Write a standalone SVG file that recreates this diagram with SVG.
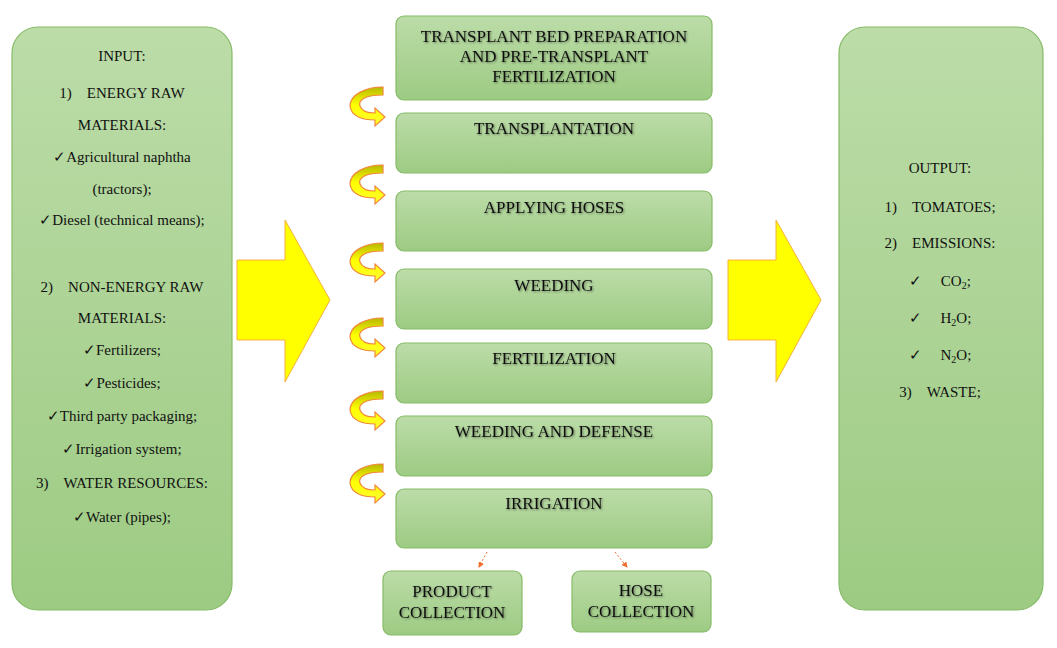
<svg xmlns="http://www.w3.org/2000/svg" width="1057" height="648" viewBox="0 0 1057 648" font-family="'Liberation Serif', 'DejaVu Serif', serif">
<defs>
<linearGradient id="g" x1="0" y1="0" x2="0" y2="1"><stop offset="0" stop-color="#bcdca8"/><stop offset="1" stop-color="#9dcb83"/></linearGradient>
<linearGradient id="y" x1="0" y1="0" x2="0" y2="1"><stop offset="0" stop-color="#b7b800"/><stop offset="0.45" stop-color="#ffff00"/><stop offset="1" stop-color="#ffff30"/></linearGradient>
<filter id="sh" x="-5%" y="-20%" width="110%" height="140%"><feDropShadow dx="1" dy="1" stdDeviation="0.8" flood-color="#000" flood-opacity="0.45"/></filter>
<marker id="ah" markerWidth="6" markerHeight="6" refX="5" refY="3" orient="auto"><path d="M0,0L6,3L0,6Z" fill="#f07030"/></marker>
<path id="cur" d="M33,0 L33,8 C15,8 8,13 10,19 C12,25 20,26 25,26 L25,21 L35,30 L25,39 L25,33 C12,33 1,29 0,19 C0,8 15,0 33,0 Z"/>
</defs>
<style>
.box{fill:url(#g);stroke:#86bb68;stroke-width:1.2}
text{fill:#111;text-anchor:middle}
.c{font-size:17px;filter:url(#sh)}
.s{font-size:15px}
.cv{fill:url(#y);stroke:#f0883a;stroke-width:1.2}
.big{fill:#ffff00;stroke:#f4b040;stroke-width:1}
</style>
<rect width="1057" height="648" fill="#fff"/>
<g id="input">
<rect class="box" x="12" y="27" width="220" height="583" rx="26"/>
<text class="s" x="122" y="61">INPUT:</text>
<text class="s" x="122" y="98">1)&#160;&#160;&#160;&#160;ENERGY RAW</text>
<text class="s" x="122" y="130">MATERIALS:</text>
<text class="s" x="122" y="162">✓Agricultural naphtha</text>
<text class="s" x="122" y="194">(tractors);</text>
<text class="s" x="122" y="225">✓Diesel (technical means);</text>
<text class="s" x="122" y="292">2)&#160;&#160;&#160;&#160;NON-ENERGY RAW</text>
<text class="s" x="122" y="323">MATERIALS:</text>
<text class="s" x="122" y="355">✓Fertilizers;</text>
<text class="s" x="122" y="388">✓Pesticides;</text>
<text class="s" x="122" y="421">✓Third party packaging;</text>
<text class="s" x="122" y="454">✓Irrigation system;</text>
<text class="s" x="122" y="488">3)&#160;&#160;&#160;&#160;WATER RESOURCES:</text>
<text class="s" x="122" y="522">✓Water (pipes);</text>
</g>
<g id="output">
<rect class="box" x="839" y="27" width="204" height="583" rx="26"/>
<text class="s" x="940" y="173">OUTPUT:</text>
<text class="s" x="940" y="212">1)&#160;&#160;&#160;&#160;TOMATOES;</text>
<text class="s" x="940" y="248">2)&#160;&#160;&#160;&#160;EMISSIONS:</text>
<text class="s" x="940" y="286">✓&#160;&#160;&#160;&#160;&#160;CO<tspan font-size="10" dy="3">2</tspan><tspan dy="-3">;</tspan></text>
<text class="s" x="940" y="323">✓&#160;&#160;&#160;&#160;&#160;H<tspan font-size="10" dy="3">2</tspan><tspan dy="-3">O;</tspan></text>
<text class="s" x="940" y="360">✓&#160;&#160;&#160;&#160;&#160;N<tspan font-size="10" dy="3">2</tspan><tspan dy="-3">O;</tspan></text>
<text class="s" x="940" y="397">3)&#160;&#160;&#160;&#160;WASTE;</text>
</g>
<g id="bigarrows">
<path class="big" d="M237,260 L285,260 L285,220 L330,300 L285,382 L285,340 L237,340 Z"/>
<path class="big" d="M728,260 L776,260 L776,220 L821,300 L776,382 L776,340 L728,340 Z"/>
</g>
<g id="n1"><rect class="box" x="396" y="16" width="316" height="84" rx="8"/>
<text class="c" x="554" y="42">TRANSPLANT BED PREPARATION</text><text class="c" x="554" y="62">AND PRE-TRANSPLANT</text><text class="c" x="554" y="82">FERTILIZATION</text></g>
<g id="n2"><rect class="box" x="396" y="113" width="316" height="60" rx="8"/><text class="c" x="554" y="134">TRANSPLANTATION</text></g>
<g id="n3"><rect class="box" x="396" y="191" width="316" height="60" rx="8"/><text class="c" x="554" y="213">APPLYING HOSES</text></g>
<g id="n4"><rect class="box" x="396" y="269" width="316" height="60" rx="8"/><text class="c" x="554" y="291">WEEDING</text></g>
<g id="n5"><rect class="box" x="396" y="343" width="316" height="60" rx="8"/><text class="c" x="554" y="364">FERTILIZATION</text></g>
<g id="n6"><rect class="box" x="396" y="416" width="316" height="60" rx="8"/><text class="c" x="554" y="437">WEEDING AND DEFENSE</text></g>
<g id="n7"><rect class="box" x="396" y="489" width="316" height="59" rx="8"/><text class="c" x="554" y="509">IRRIGATION</text></g>
<g id="n8"><rect class="box" x="383" y="571" width="139" height="64" rx="8"/><text class="c" x="452" y="597">PRODUCT</text><text class="c" x="452" y="618">COLLECTION</text></g>
<g id="n9"><rect class="box" x="572" y="571" width="139" height="61" rx="8"/><text class="c" x="641" y="596">HOSE</text><text class="c" x="641" y="617">COLLECTION</text></g>
<g id="connectors">
<use href="#cur" class="cv" transform="translate(350,87)"/>
<use href="#cur" class="cv" transform="translate(350,165)"/>
<use href="#cur" class="cv" transform="translate(350,243)"/>
<use href="#cur" class="cv" transform="translate(350,318)"/>
<use href="#cur" class="cv" transform="translate(350,391)"/>
<use href="#cur" class="cv" transform="translate(350,464)"/>
<line x1="487" y1="552" x2="479" y2="567" stroke="#f07030" stroke-width="1" stroke-dasharray="2,2" marker-end="url(#ah)"/>
<line x1="615" y1="552" x2="627" y2="567" stroke="#f07030" stroke-width="1" stroke-dasharray="2,2" marker-end="url(#ah)"/>
</g>
</svg>
